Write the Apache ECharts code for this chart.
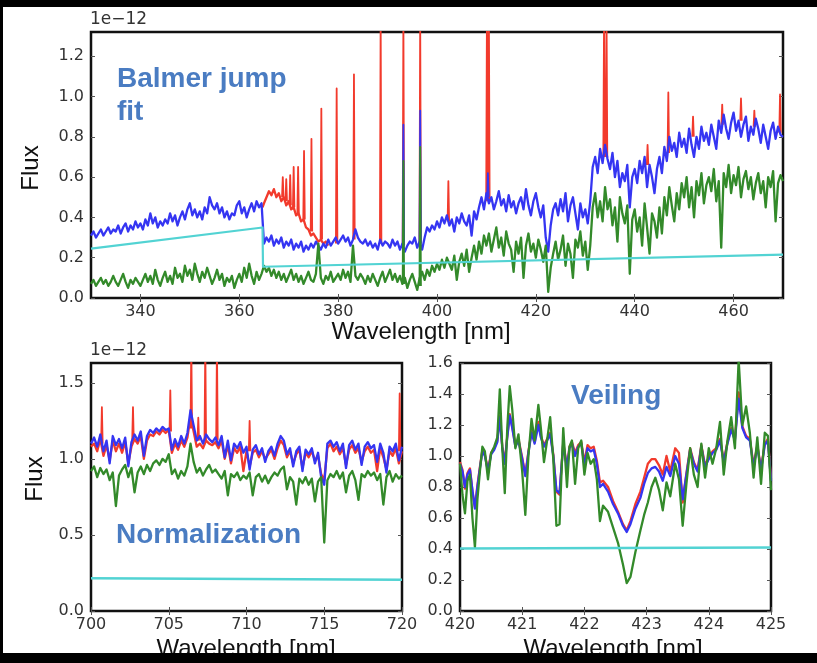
<!DOCTYPE html>
<html>
<head>
<meta charset="utf-8">
<script src="https://cdn.jsdelivr.net/npm/echarts@6/dist/echarts.min.js"></script>
<style>
html,body{margin:0;padding:0;background:#fff;}
#chart{width:817px;height:663px;}
</style>
</head>
<body>
<div id="chart"></div>
<script>
// ---------------- DATA (flux in units of 1e-12) ----------------
// Top panel: Balmer jump fit, wavelength grid 330..470 nm, step 0.5 nm
const topWlStart = 330, topWlStep = 0.5;
const topBlue = [
0.31,0.33,0.30,0.32,0.34,0.31,0.33,0.35,0.32,0.34,
0.33,0.36,0.32,0.35,0.37,0.33,0.36,0.34,0.38,0.35,
0.37,0.34,0.39,0.36,0.42,0.37,0.40,0.35,0.38,0.36,
0.39,0.37,0.42,0.38,0.41,0.36,0.40,0.43,0.39,0.44,
0.47,0.41,0.44,0.40,0.43,0.39,0.45,0.42,0.50,0.46,
0.44,0.47,0.42,0.45,0.40,0.43,0.39,0.42,0.41,0.46,
0.48,0.42,0.45,0.40,0.44,0.47,0.43,0.48,0.45,0.47,
0.27,0.30,0.28,0.31,0.26,0.29,0.27,0.30,0.25,0.28,
0.26,0.29,0.24,0.27,0.25,0.28,0.23,0.26,0.24,0.27,
0.25,0.28,0.26,0.24,0.27,0.25,0.29,0.26,0.28,0.30,
0.27,0.29,0.31,0.28,0.30,0.26,0.29,0.34,0.30,0.28,
0.27,0.29,0.26,0.28,0.25,0.27,0.24,0.29,0.26,0.28,
0.27,0.25,0.29,0.26,0.28,0.24,0.27,0.23,0.26,0.28,
0.27,0.30,0.25,0.28,0.24,0.30,0.35,0.33,0.36,0.34,
0.38,0.35,0.40,0.37,0.41,0.36,0.39,0.33,0.40,0.37,
0.42,0.38,0.36,0.41,0.31,0.43,0.39,0.45,0.50,0.44,
0.52,0.47,0.50,0.44,0.48,0.53,0.46,0.49,0.43,0.51,
0.45,0.48,0.42,0.47,0.50,0.44,0.54,0.46,0.41,0.48,
0.52,0.45,0.40,0.46,0.30,0.23,0.36,0.44,0.47,0.41,
0.49,0.43,0.52,0.38,0.46,0.50,0.42,0.34,0.47,0.40,
0.44,0.37,0.48,0.65,0.70,0.62,0.74,0.67,0.76,0.69,
0.64,0.72,0.60,0.68,0.55,0.62,0.58,0.66,0.45,0.60,
0.64,0.57,0.68,0.62,0.70,0.55,0.66,0.60,0.52,0.64,
0.70,0.62,0.75,0.68,0.80,0.73,0.77,0.70,0.82,0.75,
0.79,0.72,0.84,0.76,0.70,0.80,0.74,0.85,0.78,0.82,
0.76,0.86,0.80,0.74,0.88,0.82,0.91,0.84,0.79,0.87,
0.92,0.83,0.88,0.80,0.86,0.90,0.78,0.85,0.81,0.89,
0.84,0.77,0.86,0.80,0.74,0.83,0.87,0.79,0.85,0.81,
0.80];
const topGreen = [
0.07,0.09,0.06,0.08,0.10,0.07,0.09,0.06,0.08,0.11,
0.08,0.06,0.09,0.12,0.08,0.05,0.09,0.07,0.10,0.08,
0.06,0.09,0.12,0.08,0.11,0.07,0.14,0.09,0.06,0.10,
0.13,0.08,0.11,0.07,0.15,0.10,0.12,0.08,0.16,0.11,
0.14,0.09,0.17,0.12,0.08,0.13,0.10,0.15,0.11,0.07,
0.10,0.14,0.09,0.12,0.06,0.10,0.08,0.11,0.05,0.09,
0.12,0.08,0.15,0.10,0.17,0.11,0.07,0.13,0.09,0.12,
0.16,0.13,0.15,0.11,0.14,0.10,0.13,0.09,0.12,0.08,
0.11,0.14,0.09,0.12,0.08,0.11,0.07,0.10,0.13,0.09,
0.08,0.12,0.27,0.10,0.07,0.11,0.09,0.13,0.08,0.10,
0.12,0.09,0.14,0.10,0.13,0.08,0.26,0.11,0.09,0.12,
0.10,0.07,0.11,0.08,0.12,0.09,0.06,0.10,0.13,0.08,
0.11,0.14,0.09,0.12,0.08,0.11,0.07,0.10,0.05,0.09,
0.12,0.08,0.04,0.10,0.13,0.09,0.14,0.11,0.16,0.13,
0.17,0.14,0.19,0.15,0.20,0.17,0.14,0.21,0.09,0.18,
0.22,0.16,0.24,0.13,0.20,0.26,0.19,0.28,0.22,0.31,
0.26,0.32,0.23,0.29,0.35,0.25,0.30,0.21,0.33,0.27,
0.24,0.13,0.28,0.22,0.30,0.10,0.26,0.32,0.23,0.27,
0.20,0.29,0.24,0.18,0.26,0.03,0.15,0.22,0.28,0.19,
0.24,0.31,0.16,0.27,0.22,0.10,0.29,0.25,0.33,0.21,
0.28,0.14,0.26,0.45,0.52,0.40,0.48,0.38,0.55,0.44,
0.49,0.36,0.45,0.28,0.50,0.42,0.37,0.46,0.12,0.39,
0.44,0.33,0.40,0.26,0.47,0.35,0.22,0.42,0.38,0.30,
0.45,0.32,0.50,0.41,0.55,0.46,0.38,0.52,0.44,0.57,
0.50,0.60,0.45,0.55,0.40,0.58,0.51,0.62,0.47,0.56,
0.60,0.53,0.64,0.48,0.58,0.25,0.62,0.55,0.66,0.52,
0.61,0.56,0.65,0.50,0.59,0.63,0.54,0.60,0.49,0.57,
0.62,0.52,0.58,0.45,0.60,0.55,0.63,0.38,0.57,0.61,
0.58];
// red (observed) hump just blueward of the Balmer jump: [wavelength, flux]
const topRedHump = [[364.7,0.45],[365,0.47],[365.5,0.50],[366,0.53],[366.5,0.51],[367,0.54],[367.5,0.50],[368,0.52],[368.5,0.48],[369,0.50],[369.5,0.46],[370,0.48],[370.5,0.44],[371,0.45],[371.5,0.41],[372,0.42],[372.5,0.38],[373,0.39],[373.5,0.35],[374,0.34],[374.5,0.31],[375,0.32],[375.5,0.30],[376,0.28],[376.5,0.29],[377,0.27],[377.5,0.28],[378,0.26]];
// emission lines: [wavelength, base, peak]
const topRedSpikes = [[368.8,0.50,0.60],[369.5,0.48,0.59],[370.3,0.46,0.61],[371.0,0.45,0.65],[371.9,0.42,0.65],[373.1,0.39,0.73],[374.6,0.33,0.79],[376.6,0.29,0.94],[379.7,0.27,1.04],[383.2,0.29,1.11],[388.6,0.27,1.40],[393.2,0.26,1.40],[396.6,0.27,1.40],[402.3,0.38,0.58],[410.1,0.48,1.40],[410.5,0.48,1.40],[433.8,0.70,1.40],[434.3,0.70,1.40],[442.6,0.66,0.76],[446.8,0.72,1.02],[451.8,0.80,0.90],[457.7,0.86,0.96],[461.5,0.88,0.99],[464.2,0.85,0.93],[469.4,0.82,1.01]];
const topBlueSpikes = [[393.2,0.26,0.86],[396.6,0.27,0.93],[410.3,0.50,0.62]];
const topGreenSpikes = [[393.2,0.07,0.68],[396.6,0.06,0.75]];
const topCyan = [[330,0.245],[364.7,0.35],[364.8,0.155],[470,0.215]];

// Bottom-left: Normalization, 700..720 nm, step 0.2 nm
const blWlStart = 700, blWlStep = 0.2;
const blRed = [
1.08,1.10,1.05,1.13,1.02,1.09,0.99,1.12,1.05,1.10,
1.04,1.11,0.97,1.08,1.13,1.10,1.15,1.00,1.12,1.16,
1.15,1.18,1.16,1.19,1.17,1.19,1.04,1.10,1.06,1.12,
1.08,1.14,1.28,1.18,1.08,1.10,1.07,1.12,1.10,1.09,
1.11,1.07,1.12,1.00,1.09,0.97,1.07,1.04,1.08,0.92,
1.05,0.95,1.04,1.06,1.01,1.05,1.00,1.03,1.06,1.00,
1.07,1.12,1.09,1.01,1.05,0.97,1.03,1.06,0.94,1.04,
1.01,1.05,0.99,1.02,0.90,0.86,1.07,1.10,1.05,1.08,
1.03,1.07,0.96,1.06,1.09,1.04,1.07,0.98,1.05,1.08,
1.04,1.06,0.92,1.07,1.01,0.93,1.05,1.02,1.07,0.97,
1.05];
const blBlue = [
1.10,1.14,1.08,1.16,1.05,1.12,0.97,1.15,1.09,1.13,
1.07,1.14,0.95,1.11,1.16,1.12,1.18,1.02,1.15,1.19,
1.17,1.20,1.18,1.21,1.19,1.20,1.06,1.13,1.08,1.15,
1.10,1.17,1.32,1.22,1.12,1.15,1.10,1.16,1.13,1.11,
1.14,1.09,1.15,1.01,1.12,0.99,1.10,1.07,1.11,1.04,
1.08,0.93,1.06,1.09,1.03,1.07,0.98,1.05,1.08,1.02,
1.10,1.15,1.12,1.03,1.07,0.95,1.05,1.08,0.92,1.06,
1.03,1.07,0.97,1.04,0.88,0.83,1.10,1.12,1.08,1.11,
1.05,1.10,0.94,1.09,1.12,1.06,1.10,0.96,1.08,1.11,
1.07,1.09,0.98,1.10,1.04,0.91,1.08,1.05,1.10,0.99,
1.08];
const blGreen = [
0.92,0.95,0.88,0.94,0.90,0.93,0.86,0.91,0.69,0.89,
0.93,0.96,0.88,0.94,0.78,0.91,0.95,0.90,0.96,0.92,
0.97,0.99,0.96,1.00,0.98,1.03,0.90,0.93,0.87,0.92,
0.89,0.95,1.10,0.98,0.91,0.94,0.89,0.93,0.96,0.91,
0.93,0.90,0.87,0.92,0.76,0.90,0.88,0.91,0.86,0.89,
0.87,0.91,0.76,0.88,0.90,0.85,0.89,0.84,0.88,0.91,
0.89,0.93,0.95,0.80,0.88,0.85,0.70,0.87,0.84,0.88,
0.83,0.87,0.72,0.85,0.88,0.45,0.86,0.90,0.88,0.92,
0.87,0.91,0.78,0.89,0.92,0.86,0.73,0.90,0.88,0.92,
0.89,0.91,0.86,0.90,0.70,0.88,0.92,0.85,0.90,0.87,
0.89];
const blRedSpikes = [[700.7,1.10,1.34],[702.7,1.12,1.34],[705.1,1.18,1.45],[706.45,1.20,1.75],[706.9,1.12,1.27],[707.35,1.12,1.75],[708.1,1.12,1.75],[710.2,1.05,1.25],[719.85,1.05,1.43]];
const blCyan = [[700,0.215],[720,0.205]];

// Bottom-right: Veiling, 420..425 nm
const brWl = [420.00,420.04,420.08,420.12,420.16,420.20,420.24,420.28,420.32,420.36,
420.40,420.45,420.50,420.55,420.60,420.64,420.68,420.72,420.76,420.80,
420.84,420.89,420.94,421.00,421.05,421.10,421.15,421.20,421.26,421.30,
421.35,421.40,421.45,421.50,421.55,421.60,421.66,421.72,421.76,421.80,
421.85,421.90,421.95,422.00,422.05,422.10,422.15,422.20,422.25,422.30,
422.38,422.46,422.54,422.62,422.68,422.74,422.82,422.90,422.96,423.02,
423.08,423.14,423.20,423.26,423.32,423.38,423.46,423.52,423.58,423.64,
423.70,423.76,423.82,423.88,423.94,424.00,424.06,424.12,424.18,424.24,
424.30,424.36,424.42,424.48,424.54,424.60,424.66,424.72,424.78,424.84,
424.90,424.95,425.00];
const brRed = [0.96,0.91,0.79,0.89,0.92,0.77,0.67,0.81,0.93,1.04,
1.01,0.91,1.02,1.05,1.10,1.26,1.06,0.96,1.13,1.27,
1.19,1.07,1.11,0.99,0.88,1.03,1.16,1.09,1.22,1.13,
1.07,1.11,1.15,1.01,0.77,0.75,1.09,0.93,1.06,1.09,
1.02,1.07,1.09,0.96,1.07,1.05,1.06,0.97,0.83,0.84,
0.80,0.71,0.64,0.56,0.52,0.58,0.69,0.77,0.86,0.95,
0.98,0.98,0.94,0.88,1.00,0.90,1.05,1.02,0.70,0.89,
1.05,0.96,0.91,1.07,0.94,0.99,1.03,1.05,1.11,0.97,
1.09,1.18,1.11,1.41,1.19,1.13,1.11,0.94,1.07,0.92,
1.08,1.11,0.85];
const brBlue = [0.95,0.90,0.80,0.88,0.91,0.78,0.66,0.80,0.92,1.03,
1.00,0.90,1.01,1.04,1.09,1.25,1.05,0.95,1.12,1.26,
1.18,1.06,1.10,0.98,0.87,1.02,1.15,1.08,1.20,1.12,
1.06,1.10,1.14,1.00,0.78,0.76,1.08,0.92,1.05,1.08,
1.00,1.06,1.08,0.94,1.05,1.03,1.04,0.95,0.80,0.82,
0.77,0.69,0.63,0.55,0.51,0.56,0.66,0.73,0.82,0.89,
0.92,0.93,0.90,0.84,0.93,0.87,1.00,0.95,0.72,0.88,
1.04,0.95,0.90,1.06,0.93,0.98,1.02,1.04,1.10,0.96,
1.08,1.17,1.10,1.37,1.18,1.12,1.10,0.93,1.06,0.91,
1.07,1.10,0.84];
const brGreen = [0.95,0.75,0.63,0.84,0.88,0.60,0.41,0.72,0.90,1.06,
1.03,0.85,1.02,1.06,1.12,1.43,1.05,0.76,1.18,1.45,
1.30,1.05,1.14,0.90,0.62,1.00,1.24,1.10,1.33,1.18,
0.96,1.10,1.25,0.98,0.55,0.56,1.18,0.80,1.06,1.10,
0.82,1.05,1.10,0.88,1.02,0.95,0.98,0.85,0.58,0.68,
0.64,0.54,0.44,0.30,0.18,0.22,0.38,0.52,0.62,0.70,
0.80,0.86,0.78,0.65,0.83,0.74,0.95,0.85,0.55,0.82,
1.05,0.88,0.80,1.08,0.86,1.05,0.95,1.05,1.22,0.88,
1.10,1.25,1.05,1.62,1.20,1.32,1.15,0.86,1.12,0.82,
1.15,1.13,0.78];
const brCyan = [[420,0.403],[425,0.409]];

// tick values
const topXTicks = [340,360,380,400,420,440,460];
const topYTicks = [0,0.2,0.4,0.6,0.8,1.0,1.2];
const blXTicks = [700,705,710,715,720];
const blYTicks = [0,0.5,1.0,1.5];
const brXTicks = [420,421,422,423,424,425];
const brYTicks = [0,0.2,0.4,0.6,0.8,1.0,1.2,1.4,1.6];

// ---------------- helpers ----------------
const C = {red:'#f23a2c', blue:'#3535f2', green:'#338a2a', cyan:'#52d3d3'};
const TICKFONT = '"DejaVu Sans", sans-serif';
const LABFONT = '"Liberation Sans", Arial, sans-serif';
function onGrid(x0, step, arr){ return arr.map((v,i)=>[+(x0+step*i).toFixed(3), v]); }
function onX(xs, arr){ return arr.map((v,i)=>[xs[i], v]); }
function spikes(list, hw){
  const out=[];
  list.forEach(s=>{ out.push([s[0]-hw,s[1]],[s[0],s[2]],[s[0]+hw,s[1]],[s[0]+hw,'-']); });
  return out;
}
function line(data, color, gi, z, width){
  return {type:'line', xAxisIndex:gi*2, yAxisIndex:gi*2, data:data, showSymbol:false, symbol:'none',
    animation:false, connectNulls:false, z:z, clip:true,
    lineStyle:{color:color, width:width||2.3, join:'round'}, itemStyle:{color:color}, emphasis:{disabled:true}};
}
function xAxes(gi, min, max, ticks, fmt){
  const base = {type:'value', gridIndex:gi, min:min, max:max, splitLine:{show:false}, axisLine:{show:false}};
  return [
    Object.assign({}, base, {position:'bottom',
      axisTick:{show:true, inside:true, length:4, customValues:ticks, lineStyle:{color:'#555', width:1}},
      axisLabel:{show:true, customValues:ticks, formatter:fmt, margin:6, fontFamily:TICKFONT, fontSize:16, color:'#333'}}),
    Object.assign({}, base, {position:'top',
      axisTick:{show:true, inside:true, length:4, customValues:ticks, lineStyle:{color:'#555', width:1}},
      axisLabel:{show:false}})
  ];
}
function yAxes(gi, min, max, ticks, fmt){
  const base = {type:'value', gridIndex:gi, min:min, max:max, splitLine:{show:false}, axisLine:{show:false}};
  return [
    Object.assign({}, base, {position:'left',
      axisTick:{show:true, inside:true, length:4, customValues:ticks, lineStyle:{color:'#555', width:1}},
      axisLabel:{show:true, customValues:ticks, formatter:fmt, margin:7, fontFamily:TICKFONT, fontSize:16, color:'#333'}}),
    Object.assign({}, base, {position:'right',
      axisTick:{show:true, inside:true, length:4, customValues:ticks, lineStyle:{color:'#555', width:1}},
      axisLabel:{show:false}})
  ];
}
const f0 = v => String(Math.round(v));
const f1 = v => (+v).toFixed(1);

const grids = [
  {left:91, top:32, width:692, height:266},
  {left:91, top:363, width:311, height:248},
  {left:460, top:363, width:311, height:248}
].map(g=>Object.assign(g,{show:true, borderColor:'#111', borderWidth:2.5, backgroundColor:'#fff', containLabel:false}));

const series = [
  // top
  line(topRedHump, C.red, 0, 2),
  line(spikes(topRedSpikes,0.15), C.red, 0, 2, 1.8),
  line(onGrid(topWlStart, topWlStep, topBlue), C.blue, 0, 3),
  line(spikes(topBlueSpikes,0.15), C.blue, 0, 3, 1.8),
  line(onGrid(topWlStart, topWlStep, topGreen), C.green, 0, 4),
  line(spikes(topGreenSpikes,0.15), C.green, 0, 4, 1.8),
  line(topCyan, C.cyan, 0, 5, 2.2),
  // bottom-left
  line(onGrid(blWlStart, blWlStep, blRed), C.red, 1, 2),
  line(spikes(blRedSpikes,0.05), C.red, 1, 2, 1.8),
  line(onGrid(blWlStart, blWlStep, blBlue), C.blue, 1, 3),
  line(onGrid(blWlStart, blWlStep, blGreen), C.green, 1, 4),
  line(blCyan, C.cyan, 1, 5, 2.5),
  // bottom-right
  line(onX(brWl, brRed), C.red, 2, 2),
  line(onX(brWl, brBlue), C.blue, 2, 3),
  line(onX(brWl, brGreen), C.green, 2, 4),
  line(brCyan, C.cyan, 2, 5, 2.5)
];

const titleColor = '#4a7cc2';
const graphic = [
  {type:'text', x:90, y:20, z:50, style:{text:'1e\u221212', font:'17px '+TICKFONT, fill:'#333', align:'left', verticalAlign:'middle'}},
  {type:'text', x:90, y:351, z:50, style:{text:'1e\u221212', font:'17px '+TICKFONT, fill:'#333', align:'left', verticalAlign:'middle'}},
  {type:'text', x:421, y:332, z:50, style:{text:'Wavelength [nm]', font:'24px '+LABFONT, fill:'#111', align:'center', verticalAlign:'middle'}},
  {type:'text', x:246, y:649, z:50, style:{text:'Wavelength [nm]', font:'24px '+LABFONT, fill:'#111', align:'center', verticalAlign:'middle'}},
  {type:'text', x:613, y:649, z:50, style:{text:'Wavelength [nm]', font:'24px '+LABFONT, fill:'#111', align:'center', verticalAlign:'middle'}},
  {type:'text', x:31, y:168, rotation:Math.PI/2, z:50, style:{text:'Flux', font:'24px '+LABFONT, fill:'#111', align:'center', verticalAlign:'middle'}},
  {type:'text', x:35, y:479, rotation:Math.PI/2, z:50, style:{text:'Flux', font:'24px '+LABFONT, fill:'#111', align:'center', verticalAlign:'middle'}},
  {type:'text', x:117, y:79, z:50, style:{text:'Balmer jump', font:'bold 28px '+LABFONT, fill:titleColor, align:'left', verticalAlign:'middle'}},
  {type:'text', x:117, y:112, z:50, style:{text:'fit', font:'bold 28px '+LABFONT, fill:titleColor, align:'left', verticalAlign:'middle'}},
  {type:'text', x:116, y:535, z:50, style:{text:'Normalization', font:'bold 28px '+LABFONT, fill:titleColor, align:'left', verticalAlign:'middle'}},
  {type:'text', x:571, y:396, z:50, style:{text:'Veiling', font:'bold 28px '+LABFONT, fill:titleColor, align:'left', verticalAlign:'middle'}},
  // black frame of the original picture
  {type:'rect', z:100, shape:{x:0, y:0, width:817, height:7}, style:{fill:'#000'}},
  {type:'rect', z:100, shape:{x:0, y:653, width:817, height:10}, style:{fill:'#000'}},
  {type:'rect', z:100, shape:{x:0, y:0, width:3, height:663}, style:{fill:'#000'}}
];

const chart = echarts.init(document.getElementById('chart'), null, {renderer:'canvas'});
chart.setOption({
  backgroundColor:'#fff',
  animation:false,
  grid: grids,
  xAxis: [].concat(xAxes(0,330,470,topXTicks,f0), xAxes(1,700,720,blXTicks,f0), xAxes(2,420,425,brXTicks,f0)),
  yAxis: [].concat(yAxes(0,0,1.32,topYTicks,f1), yAxes(1,0,1.63,blYTicks,f1), yAxes(2,0,1.6,brYTicks,f1)),
  series: series,
  graphic: graphic
});
</script>
</body>
</html>
